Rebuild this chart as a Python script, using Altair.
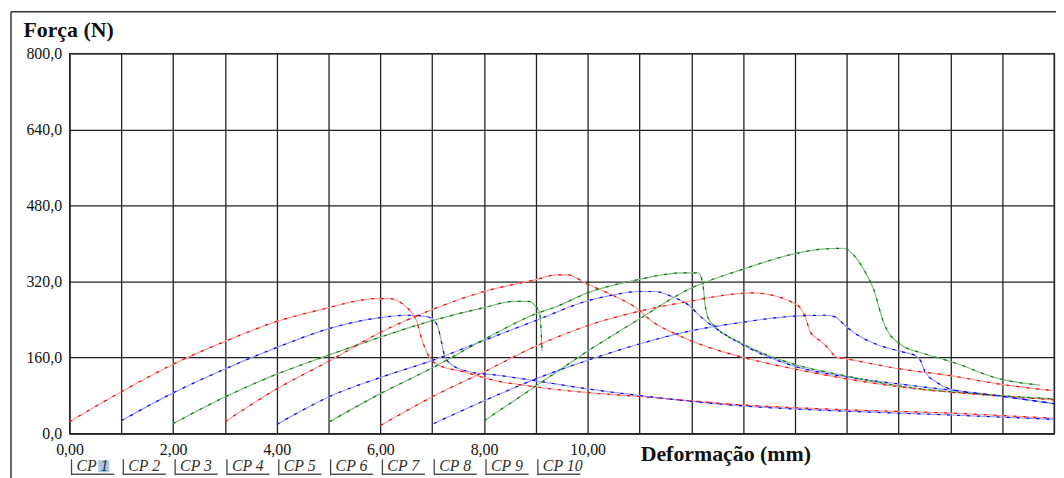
import altair as alt
import pandas as pd

# ---- data: deformation (mm) and force (N) per specimen ----
cp1_x = [0.0, 1.0, 2.0, 3.0, 4.0, 5.0, 5.4, 5.9, 6.16, 6.5, 6.7, 6.78, 6.93, 7.09, 7.6, 8.24, 8.87, 10.0, 11.0, 13.0, 15.0, 17.0, 19.0]
cp1_y = [25, 88, 146, 194, 236, 265, 276, 284, 284, 266, 236, 205, 163, 146, 130, 111, 100, 86, 78, 60, 50, 43, 32]

cp2_x = [1.0, 1.97, 3.0, 4.02, 5.04, 6.0, 6.5, 6.9, 7.09, 7.18, 7.24, 7.41, 7.72, 8.24, 9.0, 10.0, 11.0, 13.0, 15.0, 17.0, 19.0]
cp2_y = [27, 84, 136, 182, 222, 244, 249, 246, 230, 192, 163, 142, 130, 123, 111, 94, 80, 58, 47, 39, 30]

cp3_x = [2.0, 3.0, 4.0, 5.0, 6.0, 6.95, 8.0, 8.56, 8.87, 8.97, 9.07, 9.1, 9.12]
cp3_y = [21, 77, 125, 165, 203, 236, 265, 278, 278, 271, 255, 219, 173]

cp4_x = [3.0, 4.0, 5.0, 6.0, 7.0, 8.0, 9.0, 9.4, 9.6, 10.02, 10.54, 10.98, 11.24, 11.63, 12.07, 12.97, 13.98, 15.0, 16.03, 17.95, 19.0]
cp4_y = [25, 94, 152, 213, 261, 299, 324, 334, 334, 313, 288, 261, 236, 213, 192, 161, 136, 115, 98, 79, 71]

cp5_x = [4.0, 4.41, 5.02, 6.0, 7.03, 8.0, 9.0, 10.02, 10.5, 10.98, 11.3, 11.63, 11.94, 12.2, 12.45, 12.97, 13.98, 15.0, 16.03, 17.95, 19.0]
cp5_y = [19, 44, 78, 118, 155, 196, 238, 280, 292, 299, 299, 288, 271, 244, 223, 188, 142, 119, 104, 79, 63]

cp6_x = [5.02, 6.0, 7.03, 8.0, 9.0, 9.39, 10.02, 10.98, 11.5, 11.82, 12.13, 12.22, 12.26, 12.32, 12.45, 12.97, 13.98, 15.0, 16.03, 17.95, 19.0]
cp6_y = [25, 84, 140, 198, 252, 267, 297, 324, 335, 338, 338, 317, 276, 244, 226, 190, 146, 121, 100, 80, 73]

cp7_x = [6.0, 7.03, 8.0, 9.0, 10.02, 10.98, 11.94, 12.97, 13.2, 13.6, 13.98, 14.1, 14.2, 14.3, 14.5, 14.62, 14.8, 15.0, 16.03, 17.05, 17.95, 19.0]
cp7_y = [17, 79, 130, 184, 228, 257, 278, 295, 296, 290, 274, 265, 245, 213, 194, 182, 161, 157, 136, 121, 104, 90]

cp8_x = [7.03, 8.0, 9.0, 10.02, 10.98, 11.94, 12.97, 13.98, 14.62, 14.8, 14.94, 15.13, 15.57, 16.03, 16.34, 16.44, 16.51, 16.72, 16.99, 17.95, 19.0]
cp8_y = [21, 69, 115, 155, 188, 215, 234, 247, 249, 244, 230, 213, 188, 173, 163, 150, 130, 109, 94, 79, 63]

cp9_x = [8.0, 9.0, 10.02, 10.98, 11.94, 12.97, 13.98, 14.5, 14.94, 15.13, 15.33, 15.52, 15.71, 16.03, 16.53, 17.05, 17.95, 18.72]
cp9_y = [27, 100, 175, 240, 303, 345, 378, 388, 390, 376, 345, 303, 234, 188, 167, 150, 115, 102]

specimens = ["CP 1", "CP 2", "CP 3", "CP 4", "CP 5", "CP 6", "CP 7", "CP 8", "CP 9", "CP 10"]
start_offsets = [0, 1, 2, 3, 4, 5, 6, 7, 8, 9]

x_grid_values = list(range(0, 20))
y_grid_values = list(range(0, 801, 80))

curves = [(cp1_x, cp1_y), (cp2_x, cp2_y), (cp3_x, cp3_y), (cp4_x, cp4_y), (cp5_x, cp5_y),
          (cp6_x, cp6_y), (cp7_x, cp7_y), (cp8_x, cp8_y), (cp9_x, cp9_y)]

rows = []
for name, (xs, ys) in zip(specimens, curves):
    for i, (xv, yv) in enumerate(zip(xs, ys)):
        rows.append({"cp": name, "x": xv, "y": yv, "i": i})
df = pd.DataFrame(rows)

legend_df = pd.DataFrame({"name": specimens, "x": start_offsets})

strong = ["#ff0000", "#0000ff", "#008000"] * 3
light = ["#ff9c9c", "#9c9cff", "#86b886"] * 3
domain_cp = specimens[:9]
domain_cp_strong = [s + " " for s in domain_cp]
df["cp2"] = df["cp"] + " "

SERIF = "'Liberation Serif', 'Times New Roman', Times, serif"

x_enc = alt.X(
    "x:Q",
    scale=alt.Scale(domain=[0, 19], nice=False, zero=False),
    axis=alt.Axis(
        values=x_grid_values,
        labelExpr="datum.value <= 10 && datum.value % 2 == 0 ? replace(format(datum.value, '.2f'), '.', ',') : ''",
        grid=True, ticks=False, domain=False, labelOverlap=False, labelFlush=False,
        gridColor="#222", gridWidth=1.3, gridOpacity=1,
        labelFont=SERIF, labelFontSize=16, labelColor="#111", labelPadding=8,
        title="Deformação (mm)", titleX=575, titleY=20, titleAlign="left", titleBaseline="middle",
        titleFont=SERIF, titleFontSize=22, titleFontWeight="bold", titleColor="#111",
    ),
)
y_enc = alt.Y(
    "y:Q",
    scale=alt.Scale(domain=[0, 800], nice=False),
    axis=alt.Axis(
        values=y_grid_values,
        labelExpr="datum.value % 160 == 0 ? replace(format(datum.value, '.1f'), '.', ',') : ''",
        grid=True, ticks=False, domain=False, labelOverlap=False, labelFlush=False,
        gridColor="#222", gridWidth=1.3, gridOpacity=1,
        labelFont=SERIF, labelFontSize=16, labelColor="#111", labelPadding=8, labelBaseline="middle",
        title="Força (N)", titleAngle=0, titleX=-47, titleY=-24, titleAlign="left", titleBaseline="middle",
        titleFont=SERIF, titleFontSize=22, titleFontWeight="bold", titleColor="#111",
    ),
)

base_lines = alt.Chart(df).mark_line(strokeWidth=1.2, interpolate="monotone").encode(
    x=x_enc, y=y_enc,
    color=alt.Color("cp:N", scale=alt.Scale(domain=domain_cp, range=light), legend=None),
    order="i:Q",
)
strong_lines = alt.Chart(df).mark_line(strokeWidth=1.2, strokeDash=[3, 7], interpolate="monotone").encode(
    x="x:Q", y="y:Q",
    stroke=alt.Stroke("cp2:N", scale=alt.Scale(domain=domain_cp_strong, range=strong), legend=None),
    order="i:Q",
)

# legend tabs under the axis
tab_bar = alt.Chart(legend_df).mark_rule(color="#444", strokeWidth=1.3, xOffset=2).encode(
    x="x:Q", y=alt.value(409), y2=alt.value(425)
)
tab_line = alt.Chart(legend_df).transform_calculate(x_end="datum.x + 0.86").mark_rule(
    color="#555", strokeWidth=1.3, xOffset=2
).encode(x="x:Q", x2="x_end:Q", y=alt.value(424))
highlight = alt.Chart(legend_df.head(1)).mark_rect(color="#a9c6e3").encode(
    x=alt.value(29), x2=alt.value(40), y=alt.value(410), y2=alt.value(422)
)
tab_text = alt.Chart(legend_df).mark_text(
    align="left", baseline="middle", dx=7, font=SERIF, fontSize=16, fontStyle="italic", color="#333"
).encode(x="x:Q", y=alt.value(416), text="name:N")

# outer frame of the figure
frame_left = alt.Chart(legend_df.head(1)).mark_rule(color="#333", strokeWidth=1.5).encode(
    x=alt.value(-59), y=alt.value(-42), y2=alt.value(440)
)
frame_top = alt.Chart(legend_df.head(1)).mark_rule(color="#333", strokeWidth=1.5).encode(
    x=alt.value(-59), x2=alt.value(1000), y=alt.value(-42)
)

chart = alt.layer(
    base_lines, strong_lines, tab_bar, tab_line, highlight, tab_text, frame_left, frame_top
).resolve_scale(
    color="independent", stroke="independent"
).properties(
    width=992, height=383,
    padding={"left": 62, "top": 44, "right": 2, "bottom": 43},
    autosize=alt.AutoSizeParams(type="none"),
    background="white",
).configure_view(
    stroke="#222", strokeWidth=1.3
)

chart.save("out.html", embed_options={"renderer": "svg", "actions": False})
